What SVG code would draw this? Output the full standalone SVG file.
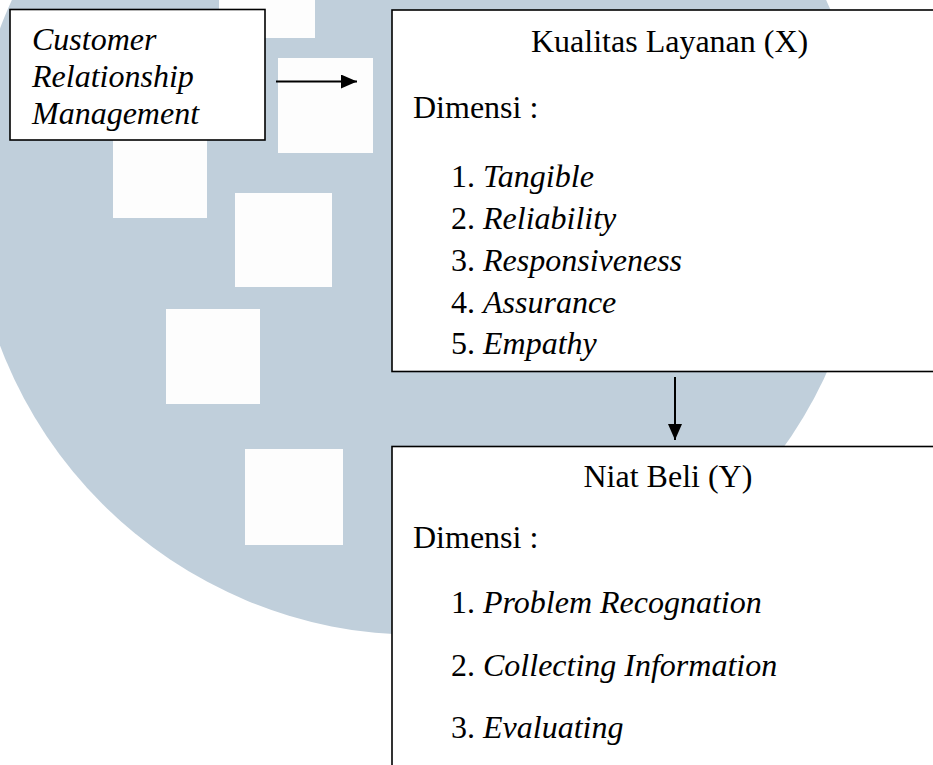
<svg xmlns="http://www.w3.org/2000/svg" width="933" height="765" viewBox="0 0 933 765">
<style>
.bg{fill:#c0cfdb}
.sq{fill:#fdfdfd}
.box{fill:#ffffff;stroke:#000000;stroke-width:1.6}
.t{font-family:"Liberation Serif","Times New Roman",serif;font-size:32px;fill:#000000}
.i{font-style:italic}
.conn{stroke:#000000;stroke-width:2;fill:none}
</style>
<defs>
<marker id="arrow" viewBox="0 0 16 14" refX="16" refY="7" markerWidth="16" markerHeight="14" markerUnits="userSpaceOnUse" orient="auto">
<path d="M0,0 L16,7 L0,14 Z" fill="#000000"/>
</marker>
</defs>
<rect x="0" y="0" width="933" height="765" fill="#ffffff"/>
<g id="watermark">
<circle class="bg" cx="419" cy="187" r="448"/>
<rect class="sq" x="219" y="-5" width="96" height="43"/>
<rect class="sq" x="278" y="58" width="95" height="95"/>
<rect class="sq" x="113" y="123" width="94" height="95"/>
<rect class="sq" x="235" y="193" width="97" height="94"/>
<rect class="sq" x="166" y="309" width="94" height="95"/>
<rect class="sq" x="245" y="449" width="98" height="96"/>
</g>
<g id="connectors">
<line class="conn" x1="276" y1="81.5" x2="357" y2="81.5" marker-end="url(#arrow)"/>
<line class="conn" x1="675" y1="377" x2="675" y2="440" marker-end="url(#arrow)"/>
</g>
<g id="crm">
<rect class="box" x="10" y="9.5" width="255" height="130.5"/>
<text class="t i" x="32" y="50">Customer</text>
<text class="t i" x="32" y="87">Relationship</text>
<text class="t i" x="32" y="123.5">Management</text>
</g>
<g id="kualitas-layanan">
<rect class="box" x="392" y="10" width="560" height="361.5"/>
<text class="t" x="531" y="51.5">Kualitas Layanan (X)</text>
<text class="t" x="413" y="118">Dimensi :</text>
<text class="t" x="451" y="187">1. <tspan class="i">Tangible</tspan></text>
<text class="t" x="451" y="228.5">2. <tspan class="i">Reliability</tspan></text>
<text class="t" x="451" y="271">3. <tspan class="i">Responsiveness</tspan></text>
<text class="t" x="451" y="312.5">4. <tspan class="i">Assurance</tspan></text>
<text class="t" x="451" y="354">5. <tspan class="i">Empathy</tspan></text>
</g>
<g id="niat-beli">
<rect class="box" x="392" y="446.5" width="560" height="340"/>
<text class="t" x="583.5" y="486.5">Niat Beli (Y)</text>
<text class="t" x="413" y="548">Dimensi :</text>
<text class="t" x="451" y="612.5">1. <tspan class="i">Problem Recognation</tspan></text>
<text class="t" x="451" y="676">2. <tspan class="i">Collecting Information</tspan></text>
<text class="t" x="451" y="738">3. <tspan class="i">Evaluating</tspan></text>
</g>
</svg>
